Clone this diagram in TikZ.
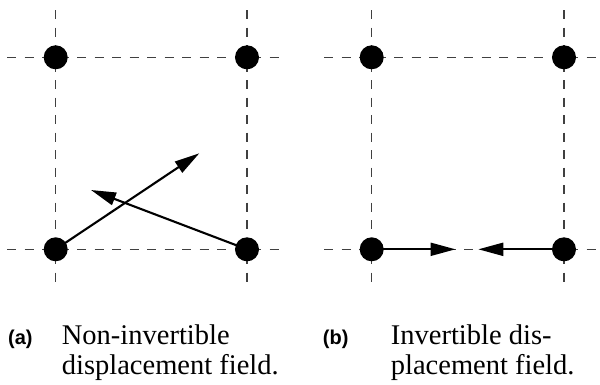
\documentclass[tikz,border=0pt]{standalone}
\usepackage{fontspec}
\setmainfont{Liberation Serif}
\newfontfamily\capsans{Liberation Sans}
\usetikzlibrary{arrows.meta}
\tikzset{
  gridline/.style={dash pattern=on 9pt off 8.5pt, line width=1.5pt, black!75},
  dot/.style={circle, fill=black, inner sep=0pt, minimum size=24pt},
  disp/.style={line width=2.1pt, -{Triangle[length=25pt,width=13pt]}},
  lab/.style={font=\capsans\bfseries\fontsize{20}{24}\selectfont, anchor=base west, inner sep=0pt},
  captext/.style={font=\fontsize{28.5}{30}\selectfont, anchor=base west, inner sep=0pt, align=left}
}
\begin{document}
\begin{tikzpicture}[x=1pt,y=-1pt]
\useasboundingbox (0,0) rectangle (600,384);
% panel a grid
\coordinate (av1t) at (55.7,10); \coordinate (av1b) at (55.7,288);
\coordinate (av2t) at (247,10); \coordinate (av2b) at (247,288);
\coordinate (ah1l) at (7,57.3); \coordinate (ah1r) at (286,57.3);
\coordinate (ah2l) at (7,249.3); \coordinate (ah2r) at (286,249.3);
\draw[gridline] (av1t) -- (av1b);
\draw[gridline] (av2t) -- (av2b);
\draw[gridline] (ah1l) -- (ah1r);
\draw[gridline] (ah2l) -- (ah2r);
% panel b grid
\coordinate (bv1t) at (371.7,10); \coordinate (bv1b) at (371.7,288);
\coordinate (bv2t) at (564,10); \coordinate (bv2b) at (564,288);
\coordinate (bh1l) at (324,57.3); \coordinate (bh1r) at (600,57.3);
\coordinate (bh2l) at (324,249.3); \coordinate (bh2r) at (600,249.3);
\draw[gridline] (bv1t) -- (bv1b);
\draw[gridline] (bv2t) -- (bv2b);
\draw[gridline] (bh1l) -- (bh1r);
\draw[gridline] (bh2l) -- (bh2r);
% dots a
\node[dot] (a11) at (55.7,57.3) {};
\node[dot] (a21) at (247,57.3) {};
\node[dot] (a12) at (55.7,249.3) {};
\node[dot] (a22) at (247,249.3) {};
% dots b
\node[dot] (b11) at (371.7,57.3) {};
\node[dot] (b21) at (564,57.3) {};
\node[dot] (b12) at (371.7,249.3) {};
\node[dot] (b22) at (564,249.3) {};
% arrows
\coordinate (ta1) at (199.3,153.3);
\coordinate (ta2) at (91,190);
\draw[disp] (a12.center) -- (ta1);
\draw[disp] (a22.center) -- (ta2);
\coordinate (tb1) at (455.5,249.3);
\coordinate (tb2) at (478.3,249.3);
\draw[disp] (b12.center) -- (tb1);
\draw[disp] (b22.center) -- (tb2);
% captions
\node[lab] (la) at (8,344.5) {(a)};
\node[captext] (ca) at (61.7,374.5) {Non-invertible\\displacement field.};
\node[lab] (lb) at (322.7,344.5) {(b)};
\node[captext] (cb) at (390.7,374.5) {Invertible dis-\\placement field.};
\end{tikzpicture}
\end{document}
